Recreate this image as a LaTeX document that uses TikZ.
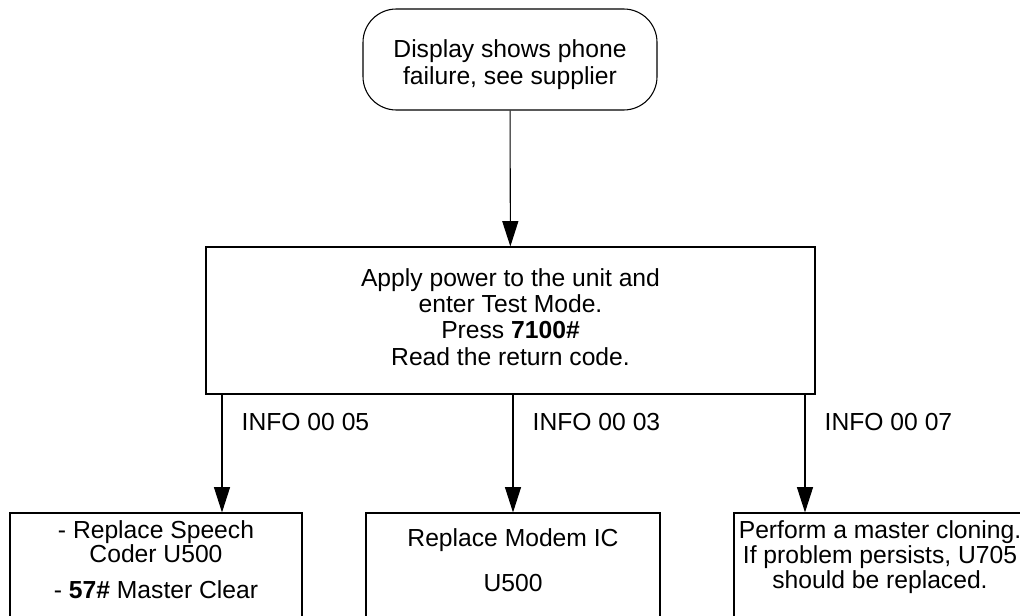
\documentclass[tikz,border=0pt]{standalone}
\usepackage{fontspec}
\setmainfont{Liberation Sans}
\usetikzlibrary{arrows.meta,fit}
\begin{document}
\begin{tikzpicture}[x=0.75pt,y=-0.75pt,
  font=\fontsize{18.5}{20}\selectfont,
  box/.style={draw,line width=0.8pt,inner sep=0pt},
  flow/.style={line width=0.8pt,-{Triangle[width=12pt,length=19pt]}}]
\useasboundingbox (0,0) rectangle (1020,616);
\clip (0,0) rectangle (1020,616);
\node[box,rounded corners=25pt,fit={(363,9) (657,110)}] (start) {};
\node[align=center,font=\fontsize{18.5}{20.2}\selectfont] (starttxt) at (510,65) {Display shows phone\\failure, see supplier};
\node[box,fit={(206,247) (815,394)}] (main) {};
\node[align=center,font=\fontsize{18.5}{19.7}\selectfont] (maintxt) at (510.5,317) {Apply power to the unit and\\enter Test Mode.\\Press \textbf{7100\#}\\Read the return code.};
\node[box,fit={(10,513) (302,700)}] (coder) {};
\node[box,fit={(366,513) (660,700)}] (modem) {};
\node[box,fit={(734,513) (1030,700)}] (clone) {};
\draw[flow] (start) -- (main);
\coordinate (b5) at (222,0);
\coordinate (b3) at (513,0);
\coordinate (b7) at (805,0);
\draw[flow] (main.south -| b5) -- (coder.north -| b5);
\draw[flow] (main.south -| b3) -- (modem.north -| b3);
\draw[flow] (main.south -| b7) -- (clone.north -| b7);
\node[anchor=west] (l5) at (237,422) {INFO 00 05};
\node[anchor=west] (l3) at (528,422) {INFO 00 03};
\node[anchor=west] (l7) at (820,422) {INFO 00 07};
\node[align=center,font=\fontsize{18.5}{15.75}\selectfont] (codertxt) at (156,542) {- Replace Speech\\Coder U500};
\node (cleartxt) at (156,590) {- \textbf{57\#} Master Clear};
\node (modemtxt) at (513,540) {Replace Modem IC};
\node (u500txt) at (513,583) {U500};
\node[align=center,font=\fontsize{18.5}{18.75}\selectfont] (clonetxt) at (880,557) {Perform a master cloning.\\If problem persists, U705\\should be replaced.};
\end{tikzpicture}
\end{document}
